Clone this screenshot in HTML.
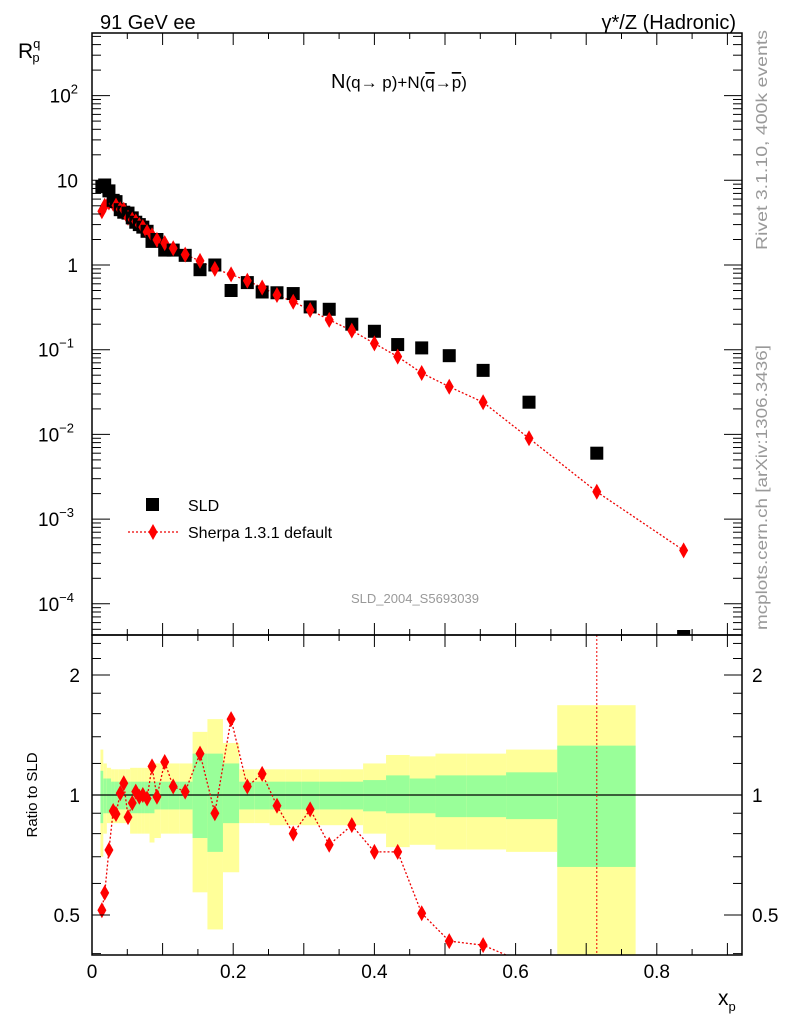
<!DOCTYPE html>
<html><head><meta charset="utf-8"><style>
html,body{margin:0;padding:0;background:#fff;}
svg{display:block;font-family:"Liberation Sans",sans-serif;}
</style></head><body>
<svg id="chart" width="786" height="1024" viewBox="0 0 786 1024" xmlns="http://www.w3.org/2000/svg">
<g id="bands"></g>
<g id="marks"></g>
<g id="axes"></g>
<text x="100" y="29" font-size="20">91 GeV ee</text>
<text x="736" y="29" font-size="20" text-anchor="end">γ*/Z (Hadronic)</text>
<text x="331" y="88" font-size="20">N<tspan font-size="17">(q→  p)+N(</tspan><tspan font-size="17" text-decoration="overline">q</tspan><tspan font-size="17">→</tspan><tspan font-size="17" text-decoration="overline">p</tspan><tspan font-size="17">)</tspan></text>
<text x="415" y="603" font-size="13" fill="#999" text-anchor="middle">SLD_2004_S5693039</text>
<text transform="translate(767,250) rotate(-90)" font-size="16" fill="#999" textLength="220" lengthAdjust="spacingAndGlyphs">Rivet 3.1.10,  400k events</text>
<text transform="translate(767,630) rotate(-90)" font-size="16" fill="#999" textLength="285" lengthAdjust="spacingAndGlyphs">mcplots.cern.ch [arXiv:1306.3436]</text>
<text x="18" y="58" font-size="21">R<tspan font-size="13" dy="-10">q</tspan><tspan font-size="13" dx="-8" dy="14">p</tspan></text>
<text transform="translate(37,795) rotate(-90)" font-size="15" text-anchor="middle">Ratio to SLD</text>
<text x="718" y="1005" font-size="21">x<tspan font-size="13" dy="6">p</tspan></text>
<g>
<rect x="146" y="498" width="13" height="13" fill="#000"/>
<text x="188" y="511" font-size="16">SLD</text>
<line x1="128" y1="532" x2="178" y2="532" stroke="#e00" stroke-width="1.3" stroke-dasharray="2,2"/>
<path d="M153,524 L157.5,532 L153,540 L148.5,532Z" fill="#f00"/>
<text x="188" y="538" font-size="16">Sherpa 1.3.1 default</text>
</g>
</svg>
<script>
const xVals=[0.014,0.018,0.024,0.030,0.034,0.040,0.045,0.051,0.057,0.062,0.067,0.072,0.078,0.085,0.092,0.103,0.115,0.132,0.153,0.174,0.197,0.22,0.241,0.262,0.285,0.309,0.336,0.368,0.4,0.433,0.467,0.506,0.554,0.619,0.715,0.838];
const dataVals=[8.4,8.8,7.5,5.8,5.6,4.5,4.2,4.1,3.6,3.2,3.0,2.8,2.5,1.9,2.0,1.5,1.5,1.3,0.88,1.0,0.5,0.62,0.48,0.47,0.46,0.32,0.3,0.2,0.165,0.115,0.105,0.085,0.057,0.024,0.006,0.000045];
const ratioVals=[0.514,0.568,0.728,0.912,0.896,1.01,1.07,0.88,0.955,1.02,0.99,1.0,0.98,1.18,0.99,1.21,1.05,1.02,1.27,0.90,1.55,1.05,1.13,0.94,0.80,0.92,0.75,0.84,0.72,0.72,0.505,0.43,0.42,0.375,0.35,9.5];
const binEdges=[0.012,0.016,0.021,0.027,0.032,0.037,0.0425,0.048,0.054,0.0595,0.0645,0.0695,0.075,0.0815,0.0885,0.0975,0.109,0.1235,0.1425,0.1635,0.1855,0.2085,0.2305,0.2515,0.2735,0.297,0.3225,0.352,0.384,0.4165,0.45,0.4865,0.53,0.5865,0.659,0.77];
const yellowUp=[1.3,1.2,1.17,1.16,1.16,1.16,1.16,1.16,1.17,1.17,1.17,1.17,1.17,1.2,1.2,1.2,1.2,1.2,1.44,1.55,1.35,1.16,1.16,1.16,1.16,1.16,1.16,1.16,1.2,1.26,1.25,1.27,1.27,1.3,1.68];
const yellowLo=[0.7,0.8,0.85,0.85,0.85,0.85,0.85,0.85,0.8,0.8,0.8,0.8,0.8,0.76,0.78,0.8,0.8,0.8,0.57,0.46,0.64,0.85,0.85,0.84,0.84,0.84,0.84,0.84,0.8,0.74,0.75,0.73,0.73,0.72,0.3];
const greenUp=[1.15,1.1,1.1,1.08,1.08,1.08,1.08,1.08,1.08,1.08,1.08,1.08,1.08,1.08,1.08,1.08,1.08,1.08,1.27,1.27,1.2,1.08,1.08,1.08,1.08,1.08,1.08,1.08,1.09,1.12,1.1,1.12,1.12,1.14,1.33];
const greenLo=[0.85,0.9,0.9,0.92,0.92,0.92,0.92,0.92,0.9,0.9,0.9,0.9,0.9,0.9,0.92,0.92,0.92,0.92,0.78,0.72,0.85,0.92,0.92,0.92,0.92,0.92,0.92,0.92,0.91,0.9,0.9,0.88,0.88,0.87,0.66];
const xTicks=[0,0.2,0.4,0.6,0.8];
const xTickLabels=["0","0.2","0.4","0.6","0.8"];
const mainExps=[2,1,0,-1,-2,-3,-4];
const ratioTicks=[2,1,0.5];

const NS="http://www.w3.org/2000/svg";
const L=92,R=742,MT=33,MB=635,RT=635,RB=955;
const sx=v=>L+v*706;
const sy=v=>265-Math.log10(v)*84.7;
const sr=v=>795-Math.log2(v)*120;
function mk(parent,tag,attrs){const e=document.createElementNS(NS,tag);for(const k in attrs)e.setAttribute(k,attrs[k]);(typeof parent==='string'?document.getElementById(parent):parent).appendChild(e);return e;}
function diamond(parent,cx,cy){return mk(parent,'path',{d:`M${cx},${cy-8}L${cx+4.5},${cy}L${cx},${cy+8}L${cx-4.5},${cy}Z`,fill:'#f00'});}

for(let i=0;i<yellowUp.length;i++){
  const x0=binEdges[i],x1=binEdges[i+1];
  const yt=Math.max(RT,sr(yellowUp[i])),yb2=Math.min(RB,sr(yellowLo[i]));
  const yb=mk('bands','rect',{x:sx(x0),width:sx(x1)-sx(x0),y:yt,height:yb2-yt,fill:'#ffff99'});
  
  
  const gb=mk('bands','rect',{x:sx(x0),width:sx(x1)-sx(x0),y:sr(greenUp[i]),height:sr(greenLo[i])-sr(greenUp[i]),fill:'#99ff99'});
  
  
}
const mc=dataVals.map((d,i)=>d*ratioVals[i]);
const ml=mk('marks','polyline',{points:xVals.map((x,i)=>sx(x)+','+sy(mc[i])).join(' '),fill:'none',stroke:'#e00','stroke-width':1.3,'stroke-dasharray':'2,2'});


xVals.forEach((x,i)=>{
  const y=sy(dataVals[i]);
  let s;
  if(y<MB-6.5) s=mk('marks','rect',{x:sx(x)-6.5,y:y-6.5,width:13,height:13,fill:'#000'});
  else s=mk('marks','rect',{x:sx(x)-6.5,y:MB-5,width:13,height:5,fill:'#000'});
  
  
  const d=diamond('marks',sx(x),sy(mc[i]));
  
  
});
mk('marks','line',{x1:L,x2:R,y1:sr(1),y2:sr(1),stroke:'#000','stroke-width':1.2});
const defs=mk('marks','defs',{});
const cp=mk(defs,'clipPath',{id:'rc'});
mk(cp,'rect',{x:L,y:RT,width:R-L,height:RB-RT});
const rg=mk('marks','g',{'clip-path':'url(#rc)'});
const rl=mk(rg,'polyline',{points:xVals.slice(0,35).map((x,i)=>sx(x)+','+sr(ratioVals[i])).join(' '),fill:'none',stroke:'#e00','stroke-width':1.3,'stroke-dasharray':'2,2'});


mk(rg,'line',{x1:sx(xVals[34]),x2:sx(xVals[34]),y1:RT,y2:RB,stroke:'#e00','stroke-width':1,'stroke-dasharray':'2,2'});
xVals.forEach((x,i)=>{
  const d=diamond(rg,sx(x),sr(ratioVals[i]));
  
  });
mk('axes','rect',{x:L,y:MT,width:R-L,height:MB-MT,fill:'none',stroke:'#000','stroke-width':1.5});
mk('axes','rect',{x:L,y:RT,width:R-L,height:RB-RT,fill:'none',stroke:'#000','stroke-width':1.5});
for(let k=0;k<=18;k++){const v=k*0.05,x=sx(v);if(x>R)break;const len=k%2==0?12:6;
  [[MT,1],[MB,-1],[RT,1],[RB,-1]].forEach(([y,s])=>mk('axes','line',{x1:x,x2:x,y1:y,y2:y+s*len,stroke:'#000'}));}
xTicks.forEach((v,i)=>{const t=mk('axes','text',{x:sx(v),y:978,'font-size':19,'text-anchor':'middle'});t.textContent=xTickLabels[i];
  
  });
for(let e=-5;e<=3;e++){for(let m=1;m<10;m++){const y=sy(m*Math.pow(10,e));if(y<MT||y>MB)continue;const len=m==1?18:9;
  mk('axes','line',{x1:L,x2:L+len,y1:y,y2:y,stroke:'#000'});mk('axes','line',{x1:R,x2:R-len,y1:y,y2:y,stroke:'#000'});}}
mainExps.forEach(e=>{const y=sy(Math.pow(10,e))+7;const t=mk('axes','text',{x:78,y:y,'font-size':19,'text-anchor':'end'});
  if(e==1)t.textContent='10';else if(e==0)t.textContent='1';
  else{t.textContent='10';const s=document.createElementNS(NS,'tspan');s.setAttribute('font-size','13');s.setAttribute('dy','-9');s.textContent=String(e).replace('-','−');t.appendChild(s);t.setAttribute('x',e<0?74:78);}
  
  });
[0.4,0.5,0.6,0.7,0.8,0.9,1,1.2,1.4,1.6,1.8,2,2.2,2.4].forEach(v=>{const y=sr(v);const big=[0.5,1,2].includes(v);const len=big?18:9;
  mk('axes','line',{x1:L,x2:L+len,y1:y,y2:y,stroke:'#000'});mk('axes','line',{x1:R,x2:R-len,y1:y,y2:y,stroke:'#000'});});
ratioTicks.forEach(v=>{[[80,'end'],[752,'start']].forEach(([x,a])=>{const t=mk('axes','text',{x:x,y:sr(v)+7,'font-size':19,'text-anchor':a});t.textContent=String(v);
  
  });});
</script>
</body></html>
